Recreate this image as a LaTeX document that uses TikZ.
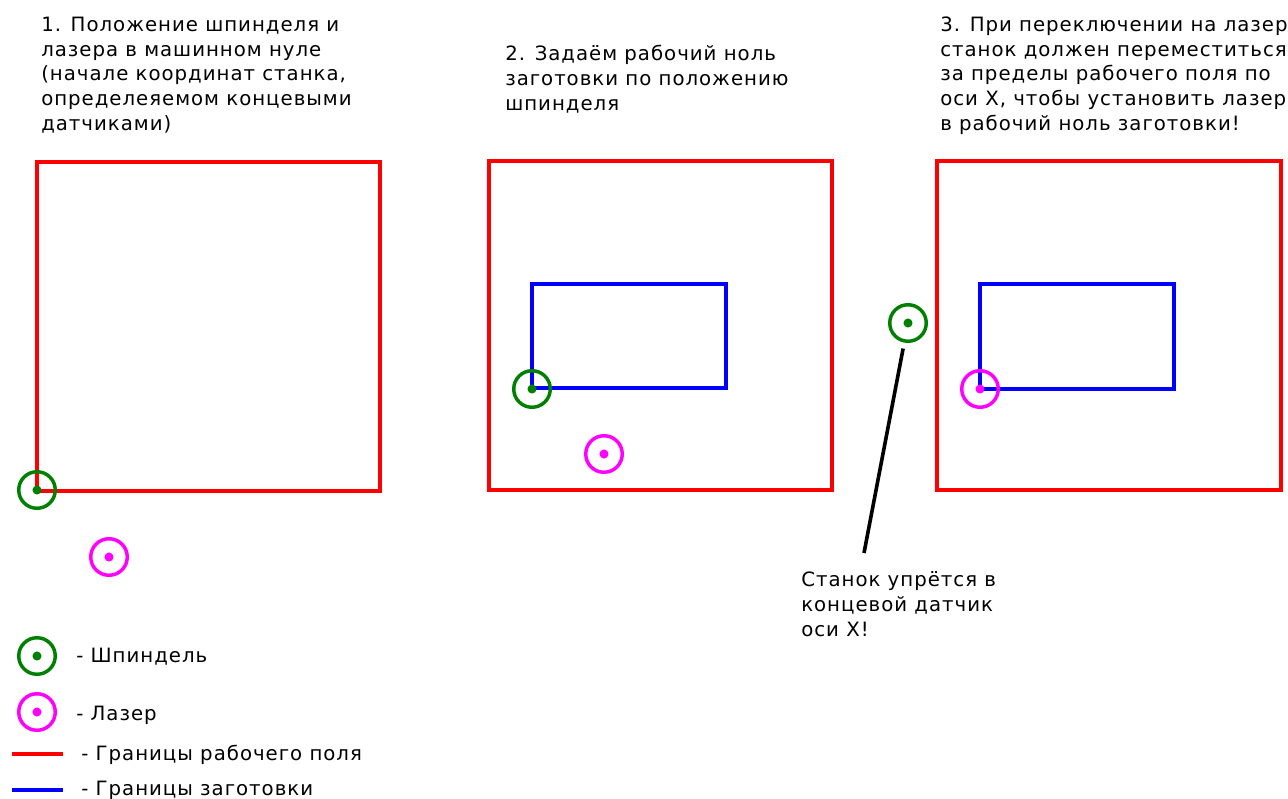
\documentclass[tikz,border=0pt]{standalone}
\usepackage{fontspec}
\setmainfont{DejaVu Sans}[LetterSpace=5]
\definecolor{spgreen}{RGB}{0,128,0}
\definecolor{lzmag}{RGB}{255,0,255}
\definecolor{fieldred}{RGB}{255,0,0}
\definecolor{blankblue}{RGB}{0,0,255}
\begin{document}
\begin{tikzpicture}[x=0.75pt,y=-0.75pt,
  % multi-line labels are anchored at the baseline of their last line
  lbl/.style={anchor=base west,inner sep=0pt,align=left,font=\fontsize{14.8}{18.4}\selectfont},
  field/.style={draw=fieldred,line width=2.6pt},
  blank/.style={draw=blankblue,line width=2.6pt},
  marker/.style={circle,line width=2.6pt,minimum size=27.4pt,inner sep=0pt,
    path picture={\fill[#1] (path picture bounding box.center) circle (3.4pt);}},
  spindle/.style={marker=spgreen,draw=spgreen},
  laser/.style={marker=lzmag,draw=lzmag},
  callout/.style={draw=black,line width=2.7pt}]
\useasboundingbox (0,0) rectangle (1288,799);

% working field boundaries
\draw[field] (37,162) rectangle (380,491);
\draw[field] (489,161) rectangle (832,490);
\draw[field] (937,161) rectangle (1281,490);

% blank boundaries
\draw[blank] (532,284) rectangle (726,388);
\draw[blank] (980,284) rectangle (1174,389);

% step 1: machine zero
\node[spindle] (s1) at (37,490) {};
\node[laser] (l1) at (109,557) {};
% step 2: blank zero from spindle
\node[spindle] (s2) at (532,389) {};
\node[laser] (l2) at (604,454) {};
% step 3: laser at blank zero
\node[spindle] (s3) at (908,323) {};
\node[laser] (l3) at (980,389) {};

% callout
\coordinate (ctip) at (864,553);
\draw[callout,shorten <=4.5pt] (s3) -- (ctip);
\node[lbl] (note) at (801,636) {Станок упрётся в\\концевой датчик\\оси X!};

% headings
\node[lbl] (t1) at (41,130) {1. Положение шпинделя и\\лазера в машинном нуле\\(начале координат станка,\\определеяемом концевыми\\датчиками)};
\node[lbl] (t2) at (505,110) {2. Задаём рабочий ноль\\заготовки по положению\\шпинделя};
\node[lbl] (t3) at (940,130) {3. При переключении на лазер\\станок должен переместиться\\за пределы рабочего поля по\\оси X, чтобы установить лазер\\в рабочий ноль заготовки!};

% legend
\node[spindle] (ks) at (37,656) {};
\node[lbl] (kst) at (76,662) {- Шпиндель};
\node[laser] (kl) at (37,712) {};
\node[lbl] (klt) at (76,720) {- Лазер};
\coordinate (kr1) at (12,754);
\coordinate (kr2) at (63,754);
\draw[field] (kr1) -- (kr2);
\node[lbl] (krt) at (81,760) {- Границы рабочего поля};
\coordinate (kb1) at (12,790);
\coordinate (kb2) at (63,790);
\draw[blank] (kb1) -- (kb2);
\node[lbl] (kbt) at (81,795) {- Границы заготовки};
\end{tikzpicture}
\end{document}
